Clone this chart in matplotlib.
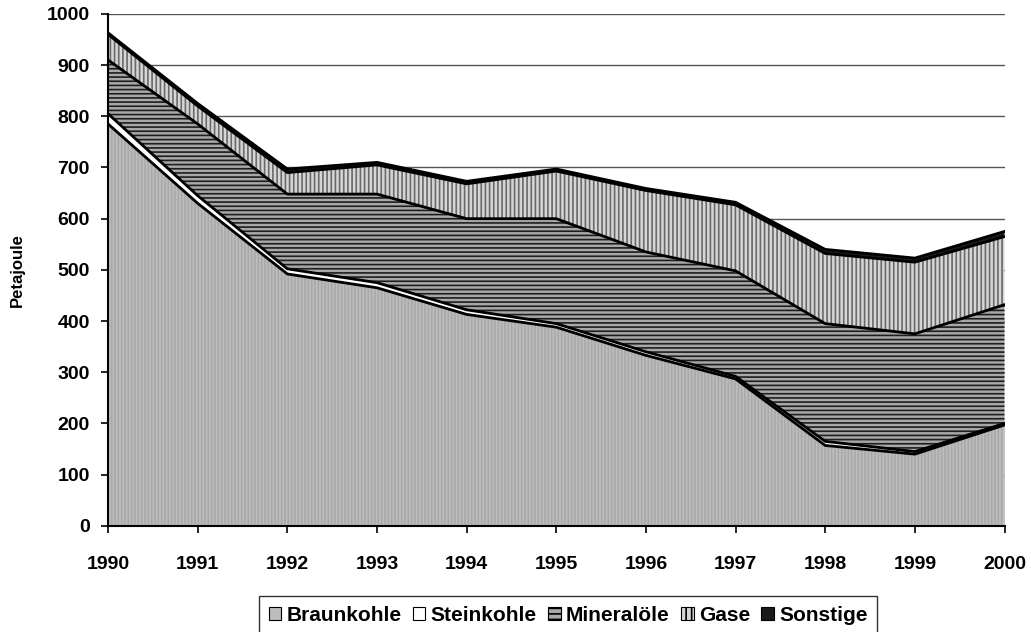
import numpy as np
import matplotlib
matplotlib.use("Agg")
import matplotlib.pyplot as plt
from matplotlib.patches import Patch

# Primärenergieverbrauch nach Energieträgern, Petajoule
jahre = [1990, 1991, 1992, 1993, 1994, 1995, 1996, 1997, 1998, 1999, 2000]
braunkohle = [785, 630, 492, 465, 413, 388, 333, 287, 157, 140, 197]
steinkohle = [20, 15, 10, 10, 9, 7, 7, 5, 8, 5, 3]
mineraloele = [105, 140, 146, 173, 178, 205, 195, 206, 230, 230, 232]
gase = [50, 35, 42, 57, 68, 93, 120, 129, 137, 140, 133]
sonstige = [3, 5, 7, 5, 5, 4, 4, 5, 8, 8, 10]

namen = ["Braunkohle", "Steinkohle", "Mineralöle", "Gase", "Sonstige"]
faces = ["#bdbdbd", "white", "#a8a8a8", "#d6d6d6", "#1a1a1a"]
hatches = ["|||||", "", "----", "||||", ""]
hatch_cols = ["#a9a9a9", "white", "#1e1e1e", "#6a6a6a", "#1a1a1a"]

plt.rcParams["font.family"] = ["Liberation Sans", "DejaVu Sans"]
plt.rcParams["hatch.linewidth"] = 1.2

fig = plt.figure(figsize=(10.31, 6.32), dpi=100)
ax = fig.add_axes([0.1048, 0.168, 0.8695, 0.810])

x = np.array(jahre)
schichten = [braunkohle, steinkohle, mineraloele, gase, sonstige]
unten = np.zeros(len(x))
for werte, fc, h, hc in zip(schichten, faces, hatches, hatch_cols):
    oben = unten + np.array(werte)
    ax.fill_between(x, unten, oben, facecolor=fc, hatch=h, edgecolor=hc,
                    linewidth=0, zorder=2)
    ax.plot(x, oben, color="black", lw=2.0, zorder=3)
    unten = oben

ax.set_xlim(1990, 2000)
ax.set_ylim(0, 1000)
ax.set_yticks(range(0, 1001, 100))
ax.set_xticks(jahre)
ax.yaxis.grid(True, color="#555555", lw=1.0, zorder=1)
ax.set_axisbelow(True)
for s in ["top", "right"]:
    ax.spines[s].set_visible(False)
ax.spines["left"].set_linewidth(1.5)
ax.spines["bottom"].set_linewidth(1.5)
ax.tick_params(axis="both", direction="out", length=5, width=1.2,
               labelsize=14)
for lab in ax.get_xticklabels() + ax.get_yticklabels():
    lab.set_fontweight("bold")
ax.tick_params(axis="x", pad=17)
ax.tick_params(axis="y", pad=8)
ax.set_ylabel("Petajoule", fontsize=12, fontweight="bold")
ax.yaxis.set_label_coords(-0.093, 0.5)

# Legende unten, Rahmen läuft unten aus dem Bild
handles = [Patch(facecolor=fc, hatch=h, edgecolor="black", lw=0.8)
           for fc, h in zip(faces, ["", "", "---", "|||", ""])]
leg = fig.legend(handles, namen, loc="lower center", ncol=5,
                 bbox_to_anchor=(0.551, -0.013), frameon=True, fancybox=False,
                 edgecolor="black", handlelength=0.6, handleheight=0.6,
                 handletextpad=0.25, columnspacing=0.55, borderpad=0.45,
                 borderaxespad=0.3, prop={"weight": "bold", "size": 15})
leg.get_frame().set_linewidth(1.0)

fig.savefig("out.png", dpi=100)
